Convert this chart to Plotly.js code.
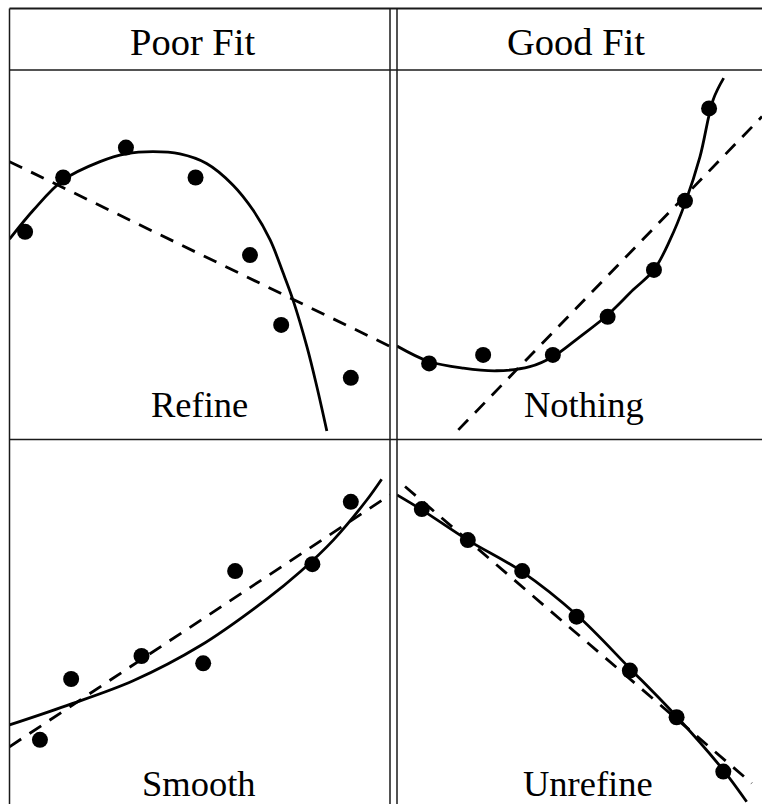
<!DOCTYPE html>
<html>
<head>
<meta charset="utf-8">
<script src="https://cdn.plot.ly/plotly-3.0.1.min.js"></script>
<style>
  html, body { margin: 0; padding: 0; background: #ffffff; }
  #chart { width: 762px; height: 804px; }
</style>
</head>
<body>
<div id="chart"></div>
<script>
// Column headings and the label written in each panel
const columnTitles = ['Poor Fit', 'Good Fit'];
const panelLabels = ['Refine', 'Nothing', 'Smooth', 'Unrefine'];

// Refine panel (top left): observations, curved fit, straight-line fit
const refineX = [0.41, 1.41, 3.06, 4.89, 6.32, 7.14, 8.97];
const refineY = [5.62, 7.09, 7.90, 7.09, 4.99, 3.10, 1.67];
const refineCurveX = [0, 0.63, 1.41, 2.38, 3.06, 3.77, 4.48, 5.18, 5.87, 6.40, 6.85, 7.19, 7.45, 7.82, 8.08, 8.34];
const refineCurveY = [5.42, 6.21, 7.02, 7.52, 7.73, 7.79, 7.73, 7.47, 6.89, 6.21, 5.40, 4.51, 3.78, 2.50, 1.42, 0.23];
const refineLineX = [0, 10];
const refineLineY = [7.52, 2.52];

// Nothing panel (top right)
const nothingX = [0.88, 2.36, 4.27, 5.77, 7.04, 7.89, 8.55];
const nothingY = [2.06, 2.29, 2.29, 3.32, 4.59, 6.46, 8.96];
const nothingCurveX = [0, 0.88, 1.82, 2.73, 3.64, 4.27, 5.01, 5.77, 6.47, 7.04, 7.48, 7.89, 8.30, 8.66, 8.95];
const nothingCurveY = [2.53, 2.11, 1.93, 1.86, 1.97, 2.24, 2.78, 3.37, 4.05, 4.59, 5.40, 6.39, 7.65, 9.19, 9.78];
const nothingLineX = [1.68, 10];
const nothingLineY = [0.26, 8.74];

// Smooth panel (bottom left)
const smoothX = [0.80, 1.62, 3.47, 5.09, 5.93, 7.96, 8.97];
const smoothY = [1.76, 3.43, 4.06, 3.86, 6.39, 6.58, 8.29];
const smoothCurveX = [0, 1.50, 3.25, 5.01, 6.76, 7.64, 8.51, 9.39, 9.78];
const smoothCurveY = [2.17, 2.70, 3.38, 4.34, 5.62, 6.37, 7.24, 8.34, 8.91];
const smoothLineX = [0, 10];
const smoothLineY = [1.57, 8.48];

// Unrefine panel (bottom right)
const unrefineX = [0.68, 1.94, 3.43, 4.92, 6.38, 7.66, 8.94];
const unrefineY = [8.09, 7.24, 6.39, 5.14, 3.66, 2.38, 0.89];
const unrefineCurveX = [0, 0.68, 1.94, 3.43, 4.92, 6.38, 7.66, 8.94, 9.58];
const unrefineCurveY = [8.48, 8.07, 7.24, 6.37, 5.19, 3.72, 2.40, 0.93, 0.06];
const unrefineLineX = [0.22, 9.72];
const unrefineLineY = [8.71, 0.57];

const W = 762, H = 804;
const px = v => v / W;
const py = v => 1 - v / H;

// Grid geometry (pixels)
const leftEdge = 9.5, topEdge = 8.5, headerBottom = 70, midRow = 439.5;
const divA = 390, divB = 397;

const ink = '#000000';
const lineW = 2.8;
const markerSize = 16;

function panel(xs, ys, cx, cy, lx, ly, ax) {
  const xa = 'x' + (ax === 1 ? '' : ax);
  const ya = 'y' + (ax === 1 ? '' : ax);
  return [
    { x: lx, y: ly, xaxis: xa, yaxis: ya, mode: 'lines', type: 'scatter',
      line: { color: ink, width: lineW, dash: '14px,10px' }, hoverinfo: 'skip' },
    { x: cx, y: cy, xaxis: xa, yaxis: ya, mode: 'lines', type: 'scatter',
      line: { color: ink, width: lineW, shape: 'spline', smoothing: 1 }, hoverinfo: 'skip' },
    { x: xs, y: ys, xaxis: xa, yaxis: ya, mode: 'markers', type: 'scatter',
      marker: { color: ink, size: markerSize, line: { width: 0 } }, hoverinfo: 'skip' }
  ];
}

const data = [].concat(
  panel(refineX, refineY, refineCurveX, refineCurveY, refineLineX, refineLineY, 1),
  panel(nothingX, nothingY, nothingCurveX, nothingCurveY, nothingLineX, nothingLineY, 2),
  panel(smoothX, smoothY, smoothCurveX, smoothCurveY, smoothLineX, smoothLineY, 3),
  panel(unrefineX, unrefineY, unrefineCurveX, unrefineCurveY, unrefineLineX, unrefineLineY, 4)
);

function hiddenAxis(domain, anchor) {
  return { domain: domain, range: [0, 10], visible: false, fixedrange: true, anchor: anchor };
}

const leftDom = [px(leftEdge), px(divA)];
const rightDom = [px(divB), 1];
const topDom = [py(midRow), py(headerBottom)];
const botDom = [0, py(midRow)];

const serif = 'Liberation Serif, Times New Roman, serif';

function label(text, xPix, yPix, size) {
  return { text: text, xref: 'paper', yref: 'paper', x: px(xPix), y: py(yPix),
           xanchor: 'center', yanchor: 'middle', showarrow: false,
           font: { family: serif, size: size, color: ink } };
}

const frameColor = '#1a1a1a';
function hline(yPix, x0, x1, w) {
  return { type: 'line', xref: 'paper', yref: 'paper', x0: px(x0), x1: px(x1),
           y0: py(yPix), y1: py(yPix), line: { color: frameColor, width: w || 1.6 }, layer: 'above' };
}
function vline(xPix, y0, y1, w) {
  return { type: 'line', xref: 'paper', yref: 'paper', x0: px(xPix), x1: px(xPix),
           y0: py(y0), y1: py(y1), line: { color: frameColor, width: w || 1.5 }, layer: 'above' };
}

const layout = {
  width: W, height: H,
  margin: { l: 0, r: 0, t: 0, b: 0, pad: 0 },
  paper_bgcolor: '#ffffff', plot_bgcolor: 'rgba(0,0,0,0)',
  showlegend: false,
  xaxis: hiddenAxis(leftDom, 'y'),   yaxis: hiddenAxis(topDom, 'x'),
  xaxis2: hiddenAxis(rightDom, 'y2'), yaxis2: hiddenAxis(topDom, 'x2'),
  xaxis3: hiddenAxis(leftDom, 'y3'), yaxis3: hiddenAxis(botDom, 'x3'),
  xaxis4: hiddenAxis(rightDom, 'y4'), yaxis4: hiddenAxis(botDom, 'x4'),
  shapes: [
    hline(topEdge, leftEdge, W, 2),
    hline(headerBottom, leftEdge, W),
    hline(midRow, leftEdge, W),
    vline(leftEdge, topEdge, H),
    vline(divA, topEdge, H),
    vline(divB, topEdge, H)
  ],
  annotations: [
    label(columnTitles[0], 193, 42, 38.5),
    label(columnTitles[1], 576, 42, 38.5),
    label(panelLabels[0], 199.5, 405, 36.5),
    label(panelLabels[1], 583.5, 405, 36.5),
    label(panelLabels[2], 199.5, 783, 36.5),
    label(panelLabels[3], 588, 783, 36.5)
  ]
};

Plotly.newPlot('chart', data, layout, { staticPlot: true, displayModeBar: false });
</script>
</body>
</html>
